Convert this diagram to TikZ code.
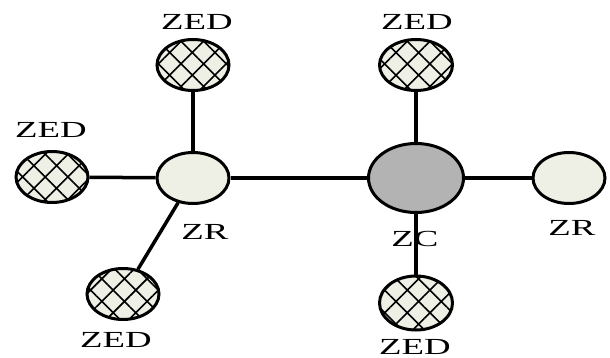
\documentclass[tikz,border=0pt]{standalone}
\usepackage{fontspec}
\setmainfont{Liberation Serif}
\usepackage{xcolor}
\usetikzlibrary{shapes.geometric,patterns.meta}

\definecolor{nodefill}{HTML}{EEEFE5}
\definecolor{hubfill}{HTML}{B3B3B3}
\newcommand{\widetext}[1]{\scalebox{1.6}[1]{#1}}

\begin{document}
\begin{tikzpicture}[x=1pt, y=-1pt,
    router/.style={ellipse, draw, line width=3pt, fill=nodefill, inner sep=0pt, minimum width=72pt, minimum height=51pt},
    enddev/.style={router, fill=none, preaction={fill=nodefill}, pattern={Hatch[angle=45, distance=16pt, line width=1.6pt]}},
    hub/.style={router, fill=hubfill, minimum width=95pt, minimum height=69pt},
    lbl/.style={inner sep=0pt, font=\fontsize{23}{25}\selectfont},
    link/.style={line width=3.5pt}]
    \useasboundingbox (0,0) rectangle (610,358);

    % Labels
    \node [lbl] (tlText) at (197,22) {\widetext{ZED}};
    \node [lbl] (lText) at (51,130) {\widetext{ZED}};
    \node [lbl] (blText) at (116,340) {\widetext{ZED}};
    \node [lbl] (zrlText) at (205,232) {\widetext{ZR}};
    \node [lbl] (trText) at (417,22) {\widetext{ZED}};
    \node [lbl] (zcText) at (415,239) {\widetext{ZC}};
    \node [lbl] (brText) at (415,347) {\widetext{ZED}};
    \node [lbl] (zrrText) at (572,228) {\widetext{ZR}};

    % Nodes
    \node [router] (zrLeft) at (193,178) {};
    \node [hub] (zc) at (416,178) {};
    \node [router] (zrRight) at (569,178) {};
    \node [enddev] (zedTL) at (193,65) {};
    \node [enddev] (zedL) at (52,177) {};
    \node [enddev] (zedBL) at (123,294) {};
    \node [enddev, minimum width=73pt] (zedTR) at (416,65) {};
    \node [enddev, minimum width=73pt, minimum height=54pt] (zedBR) at (416,303) {};

    % Links
    \draw [link] (zedTL) -- (zrLeft);
    \draw [link] (zedL) -- (zrLeft);
    \draw [link] (zedBL) -- (zrLeft);
    \draw [link] (zrLeft) -- (zc);
    \draw [link] (zc) -- (zedTR);
    \draw [link] (zc) -- (zedBR);
    \draw [link] (zc) -- (zrRight);
\end{tikzpicture}
\end{document}
